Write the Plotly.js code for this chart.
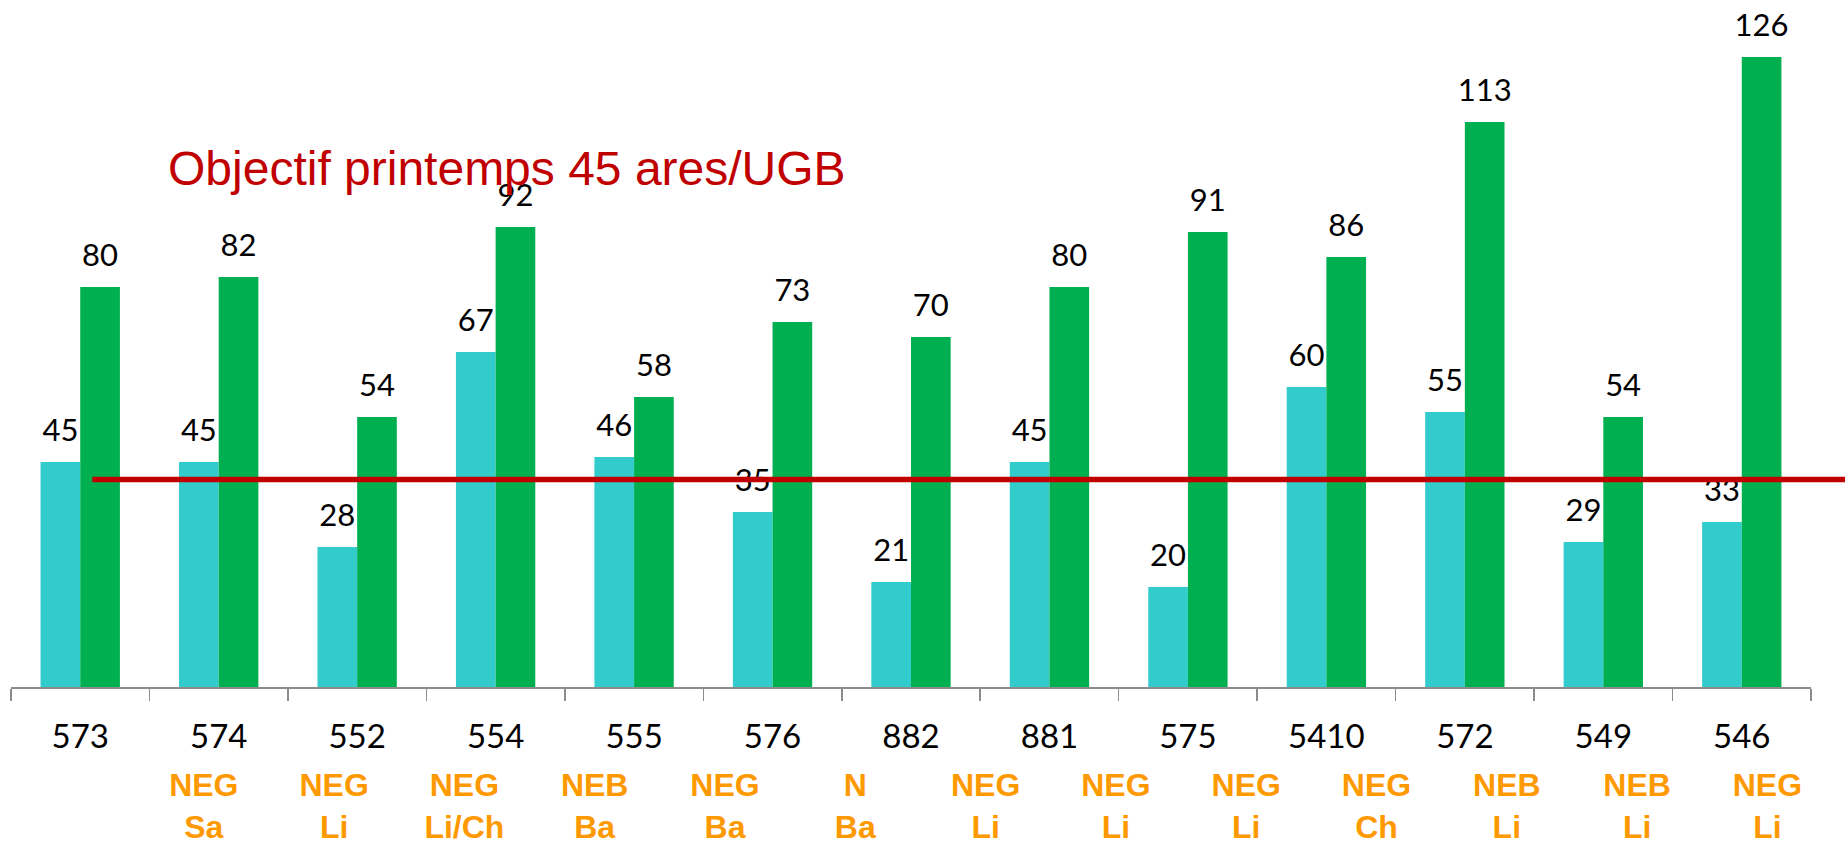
<!DOCTYPE html>
<html><head><meta charset="utf-8">
<script src="https://cdn.plot.ly/plotly-3.0.1.min.js"></script>
<style>html,body{margin:0;padding:0;background:#fff;} #chart{width:1845px;height:845px;}</style>
</head><body><div id="chart"></div>
<script>
// ---- data ----
const categories = ['573','574','552','554','555','576','882','881','575','5410','572','549','546'];
const seriesCyan = [45,45,28,67,46,35,21,45,20,60,55,29,33];
const seriesGreen = [80,82,54,92,58,73,70,80,91,86,113,54,126];
const groupLabels = ['NEG<br>Sa','NEG<br>Li','NEG<br>Li/Ch','NEB<br>Ba','NEG<br>Ba','N<br>Ba','NEG<br>Li','NEG<br>Li','NEG<br>Li','NEG<br>Ch','NEB<br>Li','NEB<br>Li','NEG<br>Li'];
const objectiveText = 'Objectif printemps 45 ares/UGB';
const objectiveLineValue = 41.5;

// ---- styling ----
const BARGAP = 0.427;
const barW = (1 - BARGAP) / 2;
const idx = categories.map((_, i) => i);
const labelFont = {family: 'Lato, "Open Sans", sans-serif', size: 31, color: '#000000'};

const traces = [
  {type: 'bar', x: categories, y: seriesCyan, marker: {color: '#33CCCC'}, hoverinfo: 'skip', showlegend: false},
  {type: 'bar', x: categories, y: seriesGreen, marker: {color: '#00B050'}, hoverinfo: 'skip', showlegend: false},
  // invisible carrier so that the second label row (xaxis2) is drawn
  {type: 'scatter', xaxis: 'x2', x: idx, y: seriesCyan, mode: 'none', hoverinfo: 'skip', showlegend: false},
  {type: 'scatter', xaxis: 'x3', x: idx.map(i => i - barW / 2), y: seriesCyan, text: seriesCyan.map(String),
   mode: 'markers+text', marker: {size: 19.6, opacity: 0}, textposition: 'top center', textfont: labelFont,
   cliponaxis: false, hoverinfo: 'skip', showlegend: false},
  {type: 'scatter', xaxis: 'x3', x: idx.map(i => i + barW / 2), y: seriesGreen, text: seriesGreen.map(String),
   mode: 'markers+text', marker: {size: 19.6, opacity: 0}, textposition: 'top center', textfont: labelFont,
   cliponaxis: false, hoverinfo: 'skip', showlegend: false}
];

const layout = {
  width: 1845, height: 845,
  margin: {l: 11, r: 34, t: 2, b: 158},
  paper_bgcolor: '#ffffff', plot_bgcolor: '#ffffff',
  barmode: 'group', bargap: BARGAP, bargroupgap: 0,
  showlegend: false,
  xaxis: {
    type: 'category', tickson: 'boundaries', ticks: 'outside', ticklen: 12, tickwidth: 1.5, tickcolor: '#8c8c8c',
    showline: true, linecolor: '#8c8c8c', linewidth: 1.5, showgrid: false, zeroline: false,
    tickfont: {family: 'Lato, "Open Sans", sans-serif', size: 33, color: '#000000'},
    ticklabelstandoff: 20, fixedrange: true
  },
  xaxis2: {
    overlaying: 'x', anchor: 'y', side: 'bottom', range: [-1.4797, 12.3346],
    tickmode: 'array', tickvals: idx, ticktext: groupLabels, ticks: '', showline: false, showgrid: false, zeroline: false,
    tickfont: {family: '"Liberation Sans", Arial, sans-serif', size: 32, color: '#FF9900', weight: 'bold'},
    ticklabelstandoff: 76, fixedrange: true
  },
  xaxis3: {overlaying: 'x', anchor: 'y', range: [-0.5, 12.5], visible: false, fixedrange: true},
  yaxis: {range: [0, 137], visible: false, showgrid: false, zeroline: false, fixedrange: true},
  shapes: [{
    type: 'line', layer: 'above', xref: 'paper', yref: 'y',
    x0: 0.0452, x1: 1.02, y0: objectiveLineValue, y1: objectiveLineValue,
    line: {color: '#C00000', width: 5.5}
  }],
  annotations: [{
    text: objectiveText, xref: 'paper', yref: 'paper', x: 0.0861, y: 0.7153,
    xanchor: 'left', yanchor: 'bottom', showarrow: false, borderpad: 1,
    font: {family: '"Liberation Sans", Arial, sans-serif', size: 48, color: '#C00000'}
  }]
};

Plotly.newPlot('chart', traces, layout, {displayModeBar: false, staticPlot: true});
</script>
</body></html>
